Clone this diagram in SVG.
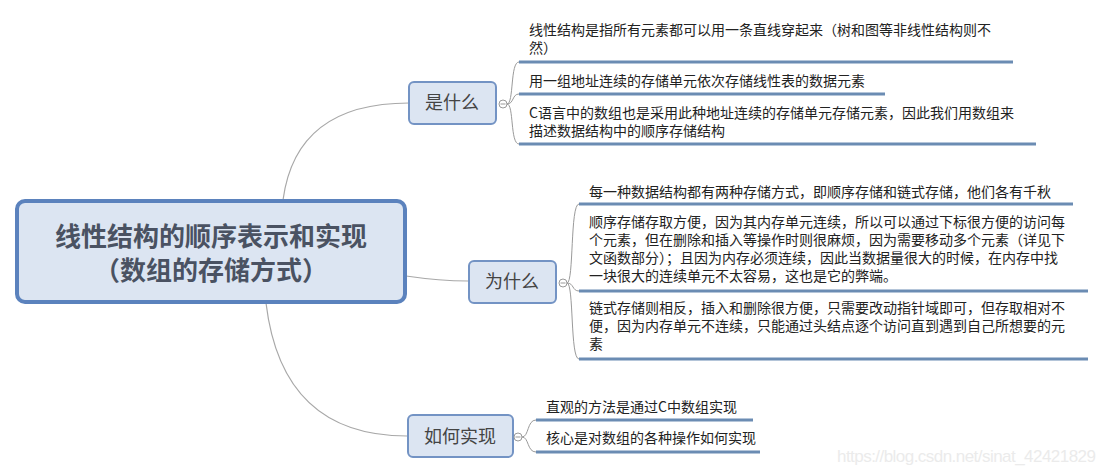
<svg xmlns="http://www.w3.org/2000/svg" width="1106" height="474" viewBox="0 0 1106 474">
<style>
.bg{fill:#ffffff}
.main{fill:#dce5f2;stroke:#5b82bd;stroke-width:4}
.sub{fill:#dce5f2;stroke:#7393c4;stroke-width:2}
.mt{font-family:"Noto Sans CJK SC","Noto Sans",sans-serif;font-size:26px;font-weight:bold;fill:#4a5262;text-anchor:middle}
.st{font-family:"Noto Sans CJK SC","Noto Sans",sans-serif;font-size:18px;fill:#444;text-anchor:middle}
.lt{font-family:"Noto Sans CJK SC","Noto Sans",sans-serif;font-size:14px;fill:#222}
.ul{stroke:#6b8cb3;stroke-width:3;fill:none}
.con{stroke:#a8a8a8;stroke-width:1.2;fill:none}
.br{stroke:#9a9a9a;stroke-width:1;fill:none}
.col{fill:#fff;stroke:#9a9a9a;stroke-width:1}
.wm{font-family:"Liberation Sans",Arial,sans-serif;font-size:17px;fill:#ebebeb}
</style>
<rect class="bg" x="0" y="0" width="1106" height="474"/>
<g id="connectors">
<path class="con" d="M283,200 Q296,103 409,103"/>
<path class="con" d="M406,276 Q440,281 468,281"/>
<path class="con" d="M266,303 Q282,436 407,436"/>
<path class="br" d="M507,104 C514,104 510,62 519,62"/>
<path class="br" d="M507,104 C514,104 512,94 519,94"/>
<path class="br" d="M507,104 C514,104 510,144 519,144"/>
<path class="br" d="M567,283 C574,283 570,204 579,204"/>
<path class="br" d="M567,283 C574,283 572,291 579,291"/>
<path class="br" d="M567,283 C574,283 570,359 579,359"/>
<path class="br" d="M522,437 C529,437 527,420 536,420"/>
<path class="br" d="M522,437 C529,437 527,452 536,452"/>
</g>
<g id="main">
<rect class="main" x="17" y="201" width="388" height="101" rx="8"/>
<text class="mt" x="211" y="246">线性结构的顺序表示和实现</text>
<text class="mt" x="211" y="280">（数组的存储方式）</text>
</g>
<g id="what">
<rect class="sub" x="409" y="82" width="87" height="42" rx="5"/>
<text class="st" x="452" y="109">是什么</text>
<circle class="col" cx="503" cy="104" r="4"/>
<line x1="500.5" y1="104" x2="505.5" y2="104" stroke="#9a9a9a" stroke-width="1"/>
</g>
<g id="what-1">
<text class="lt" x="529" y="35">线性结构是指所有元素都可以用一条直线穿起来（树和图等非线性结构则不</text>
<text class="lt" x="529" y="53">然）</text>
<line class="ul" x1="519" y1="62" x2="1013" y2="62"/>
</g>
<g id="what-2">
<text class="lt" x="529" y="86">用一组地址连续的存储单元依次存储线性表的数据元素</text>
<line class="ul" x1="519" y1="94" x2="885" y2="94"/>
</g>
<g id="what-3">
<text class="lt" x="529" y="118">C语言中的数组也是采用此种地址连续的存储单元存储元素，因此我们用数组来</text>
<text class="lt" x="529" y="136">描述数据结构中的顺序存储结构</text>
<line class="ul" x1="519" y1="144" x2="1036" y2="144"/>
</g>
<g id="why">
<rect class="sub" x="469" y="261" width="87" height="42" rx="5"/>
<text class="st" x="512" y="288">为什么</text>
<circle class="col" cx="563" cy="283" r="4"/>
<line x1="560.5" y1="283" x2="565.5" y2="283" stroke="#9a9a9a" stroke-width="1"/>
</g>
<g id="why-1">
<text class="lt" x="589" y="197">每一种数据结构都有两种存储方式，即顺序存储和链式存储，他们各有千秋</text>
<line class="ul" x1="579" y1="204" x2="1073" y2="204"/>
</g>
<g id="why-2">
<text class="lt" x="589" y="227">顺序存储存取方便，因为其内存单元连续，所以可以通过下标很方便的访问每</text>
<text class="lt" x="589" y="245">个元素，但在删除和插入等操作时则很麻烦，因为需要移动多个元素（详见下</text>
<text class="lt" x="589" y="263">文函数部分）；且因为内存必须连续，因此当数据量很大的时候，在内存中找</text>
<text class="lt" x="589" y="281">一块很大的连续单元不太容易，这也是它的弊端。</text>
<line class="ul" x1="579" y1="291" x2="1088" y2="291"/>
</g>
<g id="why-3">
<text class="lt" x="589" y="313">链式存储则相反，插入和删除很方便，只需要改动指针域即可，但存取相对不</text>
<text class="lt" x="589" y="331">便，因为内存单元不连续，只能通过头结点逐个访问直到遇到自己所想要的元</text>
<text class="lt" x="589" y="349">素</text>
<line class="ul" x1="579" y1="359" x2="1088" y2="359"/>
</g>
<g id="how">
<rect class="sub" x="408" y="415" width="105" height="42" rx="5"/>
<text class="st" x="460" y="443">如何实现</text>
<circle class="col" cx="518" cy="437" r="4"/>
<line x1="515.5" y1="437" x2="520.5" y2="437" stroke="#9a9a9a" stroke-width="1"/>
</g>
<g id="how-1">
<text class="lt" x="546" y="412">直观的方法是通过C中数组实现</text>
<line class="ul" x1="536" y1="420" x2="753" y2="420"/>
</g>
<g id="how-2">
<text class="lt" x="546" y="443">核心是对数组的各种操作如何实现</text>
<line class="ul" x1="536" y1="452" x2="760" y2="452"/>
</g>
<text class="wm" x="837" y="462" textLength="259">https://blog.csdn.net/sinat_42421829</text>
</svg>
